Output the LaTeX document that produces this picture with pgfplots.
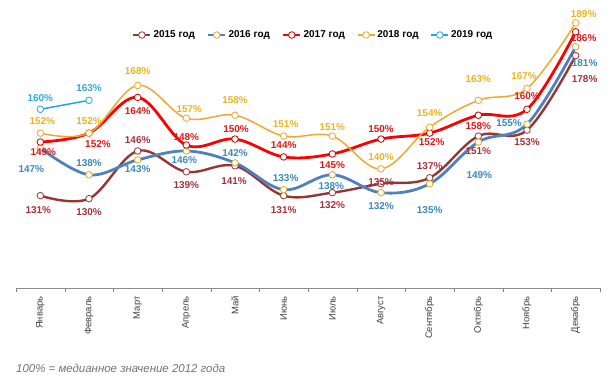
\documentclass[border=0pt]{standalone}
\usepackage{pgfplots}
\pgfplotsset{compat=1.18}
\usepackage{fontspec}
\setmainfont{Liberation Sans}
\definecolor{c15}{HTML}{953735}
\definecolor{c16}{HTML}{4F81BD}
\definecolor{c17}{HTML}{FF0000}
\definecolor{c18}{HTML}{F0A830}
\definecolor{c19}{HTML}{1FA8DC}
\definecolor{t15}{HTML}{A8303C}
\definecolor{t16}{HTML}{3A8AB8}
\definecolor{t17}{HTML}{E01818}
\definecolor{t18}{HTML}{ECB320}
\definecolor{t19}{HTML}{30A8DC}
\definecolor{m16}{HTML}{D8A838}

\pgfplotsset{
  lab/.style={
    draw=none, mark=none, forget plot,
    nodes near coords={\pgfmathprintnumber{\pgfplotspointmeta}\%},
    point meta=y,
    visualization depends on={value \thisrow{dx}\as\labdx},
    visualization depends on={value \thisrow{dy}\as\labdy},
    every node near coord/.append style={anchor=center, xshift=\labdx*1pt, yshift=\labdy*1pt,
      font=\fontsize{10}{12}\selectfont\bfseries, text=#1, inner sep=0pt},
  }
}

\begin{document}
\begin{tikzpicture}
\useasboundingbox (0,0) rectangle (614bp,390bp);
\begin{axis}[
  at={(16bp,102bp)}, anchor=south west,
  scale only axis, width=584bp, height=283bp,
  xmin=-0.5, xmax=11.5, ymin=100, ymax=195,
  clip=false,
  axis x line=bottom, axis y line=none,
  axis line style={-, draw=black!45},
  xtick={0,...,11},
  xticklabels={Январь,Февраль,Март,Апрель,Май,Июнь,Июль,Август,Сентябрь,Октябрь,Ноябрь,Декабрь},
  major x tick style={draw=none},
  minor xtick={-0.5,0.5,...,11.5},
  minor x tick style={draw=black!50},
  minor tick length=4bp,
  xtick align=outside,
  x tick label style={rotate=90, anchor=east, font=\fontsize{9.5}{11}\selectfont, text=black!75, inner sep=1pt},
  xticklabel shift=3bp,
  /pgf/number format/assume math mode=true,
  /pgf/number format/fixed, /pgf/number format/precision=0,
  legend columns=5,
  legend style={at={(0.509,0.894)}, anchor=center, draw=none, fill=none,
    font=\fontsize{10}{12}\selectfont\bfseries,
    /tikz/every even column/.append style={column sep=10bp}},
]
\addplot[c15, line width=2.4bp, smooth, tension=0.6, mark=*, mark size=3.3bp,
  mark options={fill=white, draw=c15, line width=0.8bp}] table[x=x,y=y] {
x y
0 131
1 130
2 146
3 139
4 141
5 131
6 132
7 135
8 137
9 151
10 153
11 178
};
\addlegendentry{2015 год}
\addplot[c16, line width=2.8bp, smooth, tension=0.6, mark=*, mark size=3.3bp,
  mark options={fill=yellow!8, draw=m16, line width=0.8bp}] table[x=x,y=y] {
x y
0 147
1 138
2 143
3 146
4 142
5 133
6 138
7 132
8 135
9 149
10 155
11 181
};
\addlegendentry{2016 год}
\addplot[c17, line width=2.8bp, smooth, tension=0.6, mark=*, mark size=3.3bp,
  mark options={fill=white, draw=c17!80!black, line width=0.8bp}] table[x=x,y=y] {
x y
0 149
1 152
2 164
3 148
4 150
5 144
6 145
7 150
8 152
9 158
10 160
11 186
};
\addlegendentry{2017 год}
\addplot[c18, line width=1.5bp, smooth, tension=0.6, mark=*, mark size=3.3bp,
  mark options={fill=white, draw=c18, line width=0.8bp}] table[x=x,y=y] {
x y
0 152
1 152
2 168
3 157
4 158
5 151
6 151
7 140
8 154
9 163
10 167
11 189
};
\addlegendentry{2018 год}
\addplot[c19, line width=1.5bp, smooth, tension=0.6, mark=*, mark size=3.3bp,
  mark options={fill=white, draw=c19, line width=0.8bp}] table[x=x,y=y] {
x y
0 160
1 163
};
\addlegendentry{2019 год}
\addplot[lab=t15] table[x=x,y=y] {
x y dx dy
0 131 -2 -14
1 130 0 -13
2 146 0 11
3 139 0 -13
4 141 -1 -15
5 131 0 -14
6 132 0 -12
7 135 0 2
8 137 0 12
9 151 0 -15
10 153 0 -12
11 178 9 -24
};
\addplot[lab=t16] table[x=x,y=y] {
x y dx dy
0 147 -9 -21
1 138 0 12
2 143 0 -9
3 146 -2 -9
4 142 0 10
5 133 2 12
6 138 -1 -11
7 132 0 -13
8 135 0 -26
9 149 1 -33
10 155 -18 1
11 181 9 -16
};
\addplot[lab=t17] table[x=x,y=y] {
x y dx dy
0 149 3 -10
1 152 9 -11
2 164 0 -14
3 148 0 8
4 150 1 10
5 144 0 12
6 145 0 -11
7 150 0 10
8 152 2 -9
9 158 0 -11
10 160 0 13
11 186 8 -6
};
\addplot[lab=t18] table[x=x,y=y] {
x y dx dy
0 152 2 12
1 152 0 12
2 168 0 14
3 157 3 9
4 158 0 15
5 151 2 12
6 151 0 9
7 140 0 12
8 154 0 14
9 163 0 21
10 167 -3 12
11 189 8 9
};
\addplot[lab=t19] table[x=x,y=y] {
x y dx dy
0 160 0 11
1 163 0 12
};
\end{axis}
\node[anchor=west, inner sep=0pt, font=\fontsize{11.5}{13}\selectfont\itshape, text=black!55] at (16bp,22bp) {100\% = медианное значение 2012 года};
\end{tikzpicture}
\end{document}
